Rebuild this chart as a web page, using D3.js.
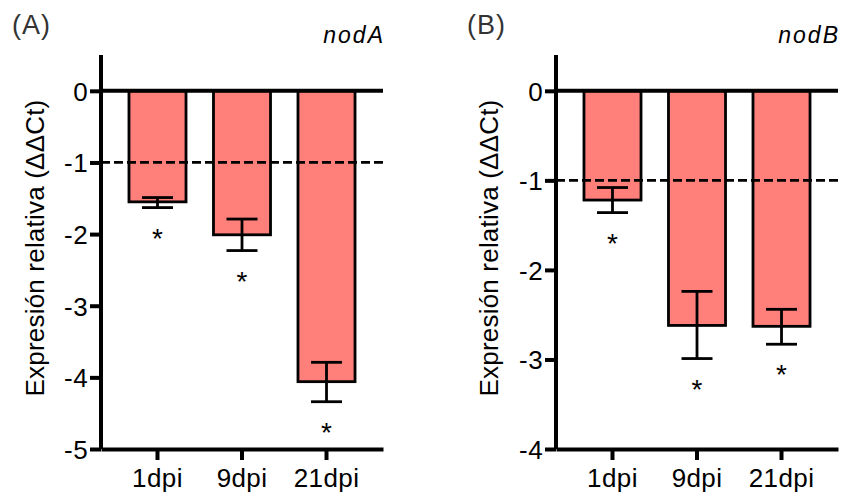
<!DOCTYPE html>
<html>
<head>
<meta charset="utf-8">
<script src="https://cdn.jsdelivr.net/npm/d3@7"></script>
<style>
  body { margin: 0; background: #fff; }
</style>
</head>
<body>
<script>
"use strict";

// data
var categories = ["1dpi", "9dpi", "21dpi"];

var nodA_mean = [-1.55, -2.01, -4.06];
var nodA_hi   = [-1.49, -1.79, -3.79];
var nodA_lo   = [-1.63, -2.23, -4.34];
var nodA_ticks = [0, -1, -2, -3, -4, -5];

var nodB_mean = [-1.22, -2.62, -2.63];
var nodB_hi   = [-1.08, -2.24, -2.44];
var nodB_lo   = [-1.36, -2.99, -2.83];
var nodB_ticks = [0, -1, -2, -3, -4];

var threshold = -1;

var FONT = "'Liberation Sans', Arial, Helvetica, sans-serif";

var width = 841, height = 494;
var svg = d3.select("body").append("svg")
    .attr("width", width)
    .attr("height", height)
    .attr("font-family", FONT);

function drawPanel(p) {
  var x = d3.scaleBand()
      .domain(categories)
      .range([p.left, p.right])
      .paddingInner(0.325)
      .paddingOuter(0.331);
  var y = d3.scaleLinear()
      .domain(p.domain)
      .range([449, 55]);

  var g = svg.append("g");
  var rows = categories.map(function(c, i) {
    return {cat: c, mean: p.mean[i], hi: p.hi[i], lo: p.lo[i]};
  });

  // bars
  g.selectAll("rect.bar").data(rows).enter().append("rect")
      .attr("class", "bar")
      .attr("x", function(d) { return x(d.cat); })
      .attr("y", y(0))
      .attr("width", x.bandwidth())
      .attr("height", function(d) { return y(d.mean) - y(0); })
      .style("fill", "#ff7f7a")
      .style("stroke", "#000")
      .style("stroke-width", 2.8);

  // dashed line at -1
  g.append("line")
      .attr("x1", p.left).attr("x2", p.right)
      .attr("y1", y(threshold)).attr("y2", y(threshold))
      .style("stroke", "#000")
      .style("stroke-width", 2.8)
      .style("stroke-dasharray", "9,4");

  // zero line
  g.append("line")
      .attr("x1", p.left).attr("x2", p.right)
      .attr("y1", y(0)).attr("y2", y(0))
      .style("stroke", "#000")
      .style("stroke-width", 4);

  // error bars
  var cap = 15.5;
  var eb = g.selectAll("g.err").data(rows).enter().append("g").attr("class", "err")
      .style("stroke", "#000").style("stroke-width", 2.8);
  eb.append("line")
      .attr("x1", function(d) { return x(d.cat) + x.bandwidth() / 2; })
      .attr("x2", function(d) { return x(d.cat) + x.bandwidth() / 2; })
      .attr("y1", function(d) { return y(d.hi); })
      .attr("y2", function(d) { return y(d.lo); });
  eb.append("line")
      .attr("x1", function(d) { return x(d.cat) + x.bandwidth() / 2 - cap; })
      .attr("x2", function(d) { return x(d.cat) + x.bandwidth() / 2 + cap; })
      .attr("y1", function(d) { return y(d.hi); })
      .attr("y2", function(d) { return y(d.hi); });
  eb.append("line")
      .attr("x1", function(d) { return x(d.cat) + x.bandwidth() / 2 - cap; })
      .attr("x2", function(d) { return x(d.cat) + x.bandwidth() / 2 + cap; })
      .attr("y1", function(d) { return y(d.lo); })
      .attr("y2", function(d) { return y(d.lo); });

  // significance stars
  g.selectAll("text.star").data(rows).enter().append("text")
      .attr("class", "star")
      .attr("x", function(d) { return x(d.cat) + x.bandwidth() / 2; })
      .attr("y", function(d) { return y(d.lo) + 40; })
      .attr("text-anchor", "middle")
      .style("font-family", FONT)
      .style("font-size", "28px")
      .text("*");

  // axes
  var yAxis = g.append("g")
      .attr("transform", "translate(" + p.left + ",0)")
      .call(d3.axisLeft(y).tickValues(p.ticks).tickFormat(function(d) { return String(d); })
            .tickSize(11).tickSizeOuter(0).tickPadding(2));
  var xAxis = g.append("g")
      .attr("transform", "translate(0,449)")
      .call(d3.axisBottom(x).tickSize(11).tickSizeOuter(0).tickPadding(9));
  [yAxis, xAxis].forEach(function(a) {
    a.attr("font-family", FONT);
    a.selectAll("path, line").style("stroke", "#000").style("stroke-width", 4);
    a.selectAll("text").style("font-family", FONT).style("font-size", "26px")
        .style("letter-spacing", "0.4px").style("fill", "#000");
  });
  yAxis.selectAll("text").attr("dy", "0.36em");
  yAxis.select("path").attr("d", "M0," + y.range()[0] + "V" + y.range()[1]);

  // titles
  g.append("text")
      .attr("transform", "translate(" + p.titleX + ",248) rotate(-90)")
      .attr("text-anchor", "middle")
      .style("font-family", FONT)
      .style("font-size", "26px")
      .style("letter-spacing", "0.2px")
      .text("Expresión relativa (ΔΔCt)");
  g.append("text")
      .attr("x", p.tagX).attr("y", 34)
      .style("font-family", FONT)
      .style("font-size", "27px")
      .style("letter-spacing", "1px")
      .style("fill", "#333")
      .text(p.tag);
  g.append("text")
      .attr("x", p.right + 2).attr("y", 43)
      .attr("text-anchor", "end")
      .style("font-family", FONT)
      .style("font-size", "23px")
      .style("font-style", "italic")
      .style("letter-spacing", "2px")
      .text(p.gene);
}

drawPanel({left: 101, right: 383, domain: [-5, 0.5], ticks: nodA_ticks,
           mean: nodA_mean, hi: nodA_hi, lo: nodA_lo,
           titleX: 44, tagX: 12, tag: "(A)", gene: "nodA"});
drawPanel({left: 556, right: 838, domain: [-4, 0.4], ticks: nodB_ticks,
           mean: nodB_mean, hi: nodB_hi, lo: nodB_lo,
           titleX: 498, tagX: 467, tag: "(B)", gene: "nodB"});
</script>
</body>
</html>
